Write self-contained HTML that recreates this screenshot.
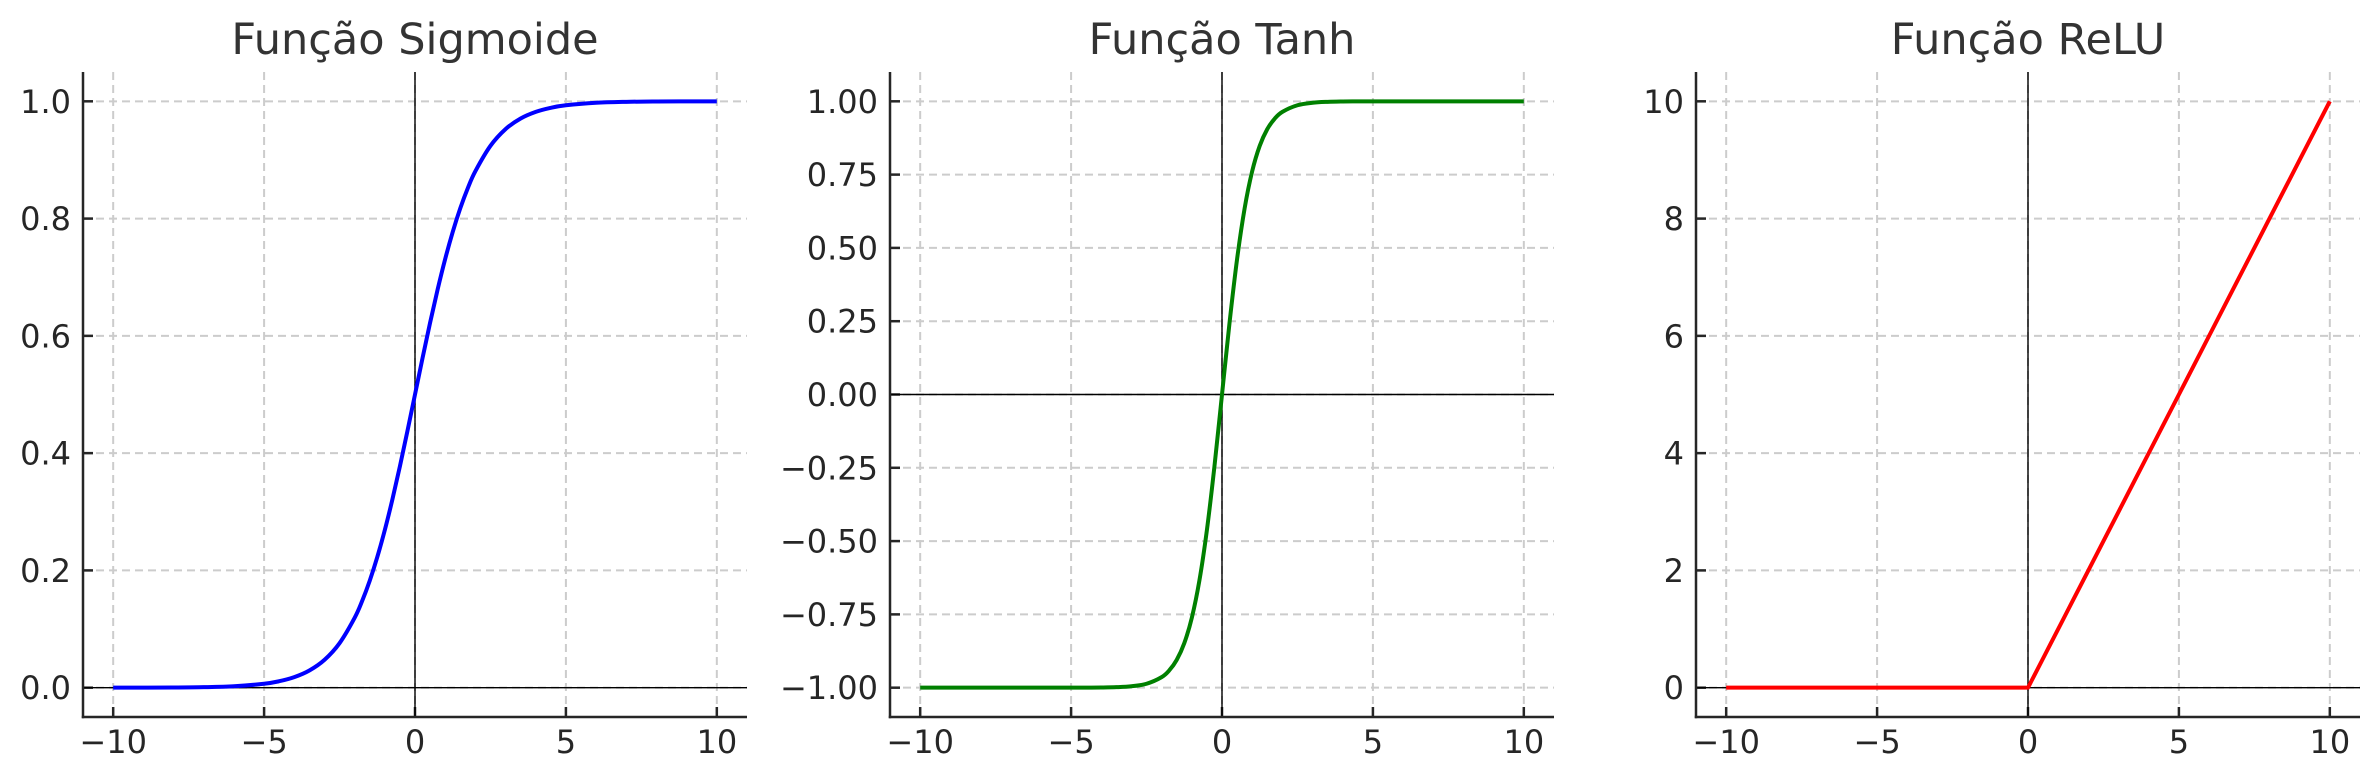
<!DOCTYPE html>
<html><head><meta charset="utf-8">
<style>
html,body{margin:0;padding:0;background:#fff;}
svg{display:block;font-family:"DejaVu Sans","Liberation Sans",sans-serif;}
</style></head>
<body>
<svg id="chart" width="2379" height="780" viewBox="0 0 2379 780" xmlns="http://www.w3.org/2000/svg"></svg>
<script>
const xValues = [-10,-9,-8,-7,-6,-5,-4.5,-4,-3.5,-3,-2.5,-2,-1.75,-1.5,-1.25,-1,-0.75,-0.5,-0.25,0,0.25,0.5,0.75,1,1.25,1.5,1.75,2,2.5,3,3.5,4,4.5,5,6,7,8,9,10];
const sigmoidValues = [0.0000454,0.000123,0.000335,0.000911,0.00247,0.00669,0.011,0.018,0.0293,0.0474,0.0759,0.1192,0.148,0.1824,0.2227,0.2689,0.3208,0.3775,0.4378,0.5,0.5622,0.6225,0.6792,0.7311,0.7773,0.8176,0.852,0.8808,0.9241,0.9526,0.9707,0.982,0.989,0.9933,0.9975,0.9991,0.9997,0.9999,1.0];
const tanhValues = [-1,-1,-1,-0.99999,-0.99999,-0.99991,-0.99975,-0.99933,-0.99818,-0.99505,-0.98661,-0.96403,-0.94138,-0.90515,-0.84828,-0.76159,-0.63515,-0.46212,-0.24492,0,0.24492,0.46212,0.63515,0.76159,0.84828,0.90515,0.94138,0.96403,0.98661,0.99505,0.99818,0.99933,0.99975,0.99991,0.99999,0.99999,1,1,1];
const reluValues = [0,0,0,0,0,0,0,0,0,0,0,0,0,0,0,0,0,0,0,0,0.25,0.5,0.75,1,1.25,1.5,1.75,2,2.5,3,3.5,4,4.5,5,6,7,8,9,10];
const xTicks = [-10,-5,0,5,10];
const xTickLabels = ["\u221210","\u22125","0","5","10"];
const sigTicks = [0,0.2,0.4,0.6,0.8,1.0];
const sigTickLabels = ["0.0","0.2","0.4","0.6","0.8","1.0"];
const tanhTicks = [-1,-0.75,-0.5,-0.25,0,0.25,0.5,0.75,1];
const tanhTickLabels = ["\u22121.00","\u22120.75","\u22120.50","\u22120.25","0.00","0.25","0.50","0.75","1.00"];
const reluTicks = [0,2,4,6,8,10];
const reluTickLabels = ["0","2","4","6","8","10"];

const NS="http://www.w3.org/2000/svg";
const svg=document.getElementById('chart');
function mk(tag,attrs,parent){const e=document.createElementNS(NS,tag);for(const k in attrs)e.setAttribute(k,attrs[k]);(parent||svg).appendChild(e);return e;}

function panel(cfg){
  const g=mk('g',{});
  
  
  const L=cfg.left,R=cfg.left+664,T=72,B=717;
  const sx=v=>L+(v+11)/22*(R-L);
  const sy=v=>B-(v-cfg.ymin)/(cfg.ymax-cfg.ymin)*(B-T);
  cfg.yt.forEach((v,i)=>{
    const l=mk('line',{x1:L,x2:R,y1:sy(v),y2:sy(v),stroke:'#cccccc','stroke-width':2,'stroke-dasharray':'8,5'},g);
    
    
    const t=mk('text',{x:L-12,y:sy(v)+11.5,'text-anchor':'end','font-size':32,fill:'#262626'},g);
    t.textContent=cfg.ytl[i];
    
    
    const tk=mk('line',{x1:L,x2:L+10,y1:sy(v),y2:sy(v),stroke:'#262626','stroke-width':2.5},g);
    
    
  });
  xTicks.forEach((v,i)=>{
    const l=mk('line',{x1:sx(v),x2:sx(v),y1:T,y2:B,stroke:'#cccccc','stroke-width':2,'stroke-dasharray':'8,5'},g);
    
    
    const t=mk('text',{x:sx(v),y:753,'text-anchor':'middle','font-size':32,fill:'#262626'},g);
    t.textContent=xTickLabels[i];
    
    
    const tk=mk('line',{x1:sx(v),x2:sx(v),y1:B,y2:B-10,stroke:'#262626','stroke-width':2.5},g);
    
    
  });
  const h0=mk('line',{x1:L,x2:R,y1:sy(0),y2:sy(0),stroke:'#000','stroke-width':1.4},g);
  
  
  const v0=mk('line',{x1:sx(0),x2:sx(0),y1:T,y2:B,stroke:'#000','stroke-width':1.4},g);
  
  
  const pts=xValues.map((x,i)=>[sx(x),sy(cfg.ys[i])]);
  let d='M'+pts[0][0]+','+pts[0][1];
  for(let i=0;i<pts.length-1;i++){
    if(!cfg.smooth){d+=' L'+pts[i+1][0]+','+pts[i+1][1];continue;}
    const p0=pts[Math.max(i-1,0)],p1=pts[i],p2=pts[i+1],p3=pts[Math.min(i+2,pts.length-1)];
    const c1=[p1[0]+(p2[0]-p0[0])/6,p1[1]+(p2[1]-p0[1])/6];
    const c2=[p2[0]-(p3[0]-p1[0])/6,p2[1]-(p3[1]-p1[1])/6];
    d+=' C'+c1[0]+','+c1[1]+' '+c2[0]+','+c2[1]+' '+p2[0]+','+p2[1];
  }
  const path=mk('path',{d:d,fill:'none',stroke:cfg.color,'stroke-width':4,'stroke-linejoin':'round'},g);
  
  
  const sl=mk('line',{x1:L,x2:L,y1:T,y2:B+1.25,stroke:'#262626','stroke-width':2.5},g);
  
  
  const sb=mk('line',{x1:L-1.25,x2:R,y1:B,y2:B,stroke:'#262626','stroke-width':2.5},g);
  
  
  const tt=mk('text',{x:(L+R)/2,y:54,'text-anchor':'middle','font-size':43,fill:'#333333'},g);
  tt.textContent=cfg.title;
  
  
}
panel({name:'sigmoid',left:83,ymin:-0.05,ymax:1.05,yt:sigTicks,ytl:sigTickLabels,ys:sigmoidValues,color:'#0000ff',smooth:true,title:'Função Sigmoide'});
panel({name:'tanh',left:890,ymin:-1.1,ymax:1.1,yt:tanhTicks,ytl:tanhTickLabels,ys:tanhValues,color:'#008000',smooth:true,title:'Função Tanh'});
panel({name:'relu',left:1696,ymin:-0.5,ymax:10.5,yt:reluTicks,ytl:reluTickLabels,ys:reluValues,color:'#ff0000',smooth:false,title:'Função ReLU'});
</script>
</body></html>
